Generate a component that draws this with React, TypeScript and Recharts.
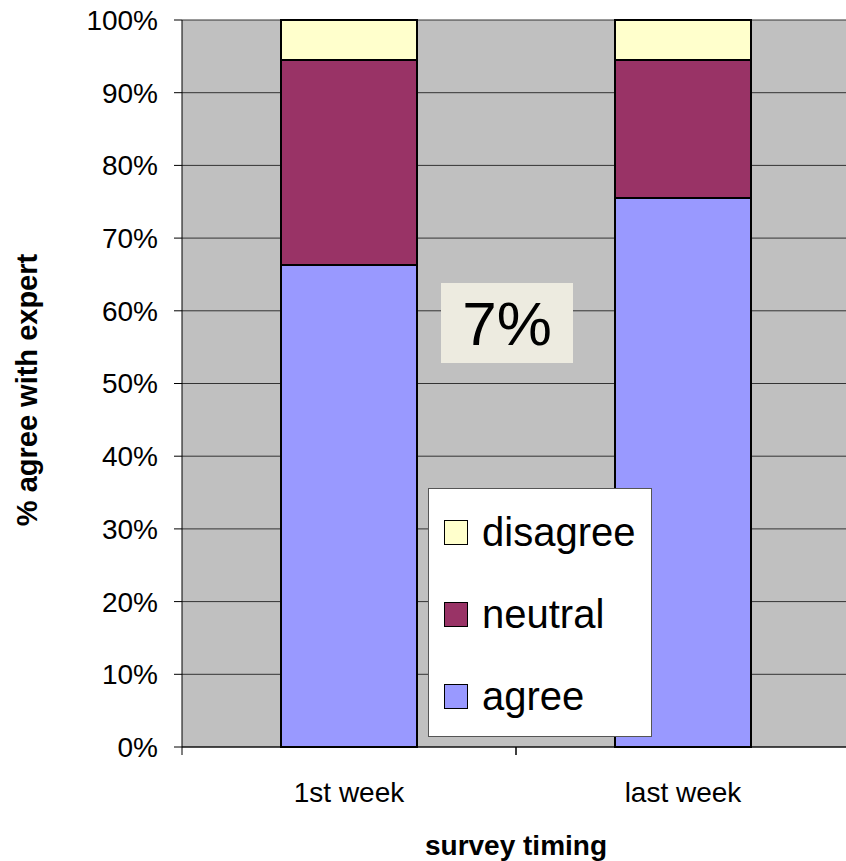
import React from "react";
import { BarChart, Bar, XAxis, YAxis, CartesianGrid, Legend } from "recharts";

const categories = ["1st week", "last week"];
const agree = [66.3, 75.5];
const neutral = [28.2, 19.0];
const disagree = [5.5, 5.5];
const yTicks = [0, 10, 20, 30, 40, 50, 60, 70, 80, 90, 100];
const legendOrder = ["disagree", "neutral", "agree"];

const data = categories.map((c, i) => ({
  name: c,
  agree: agree[i],
  neutral: neutral[i],
  disagree: disagree[i],
}));

const FONT = '"Liberation Sans", Arial, sans-serif';
const CHART_W = 850;
const CHART_H = 861;
const Y_AXIS_W = 182;
const HALF_BAND = (CHART_W - Y_AXIS_W) / categories.length / 2;

const XTick = (props: any) => {
  const { x, y, payload } = props;
  return (
    <g>
      <line x1={x - HALF_BAND} x2={x - HALF_BAND} y1={y} y2={y + 8} stroke="#000" />
      <line x1={x + HALF_BAND} x2={x + HALF_BAND} y1={y} y2={y + 8} stroke="#000" />
      <text x={x} y={y + 55} textAnchor="middle" fontSize={28} fontFamily={FONT} fill="#000">
        {payload.value}
      </text>
    </g>
  );
};

const LegendBox = (props: any) => {
  const payload = props.payload || [];
  const items = legendOrder
    .map((k) => payload.find((p: any) => p.dataKey === k || p.value === k))
    .filter(Boolean);
  return (
    <div
      style={{
        width: 224,
        height: 249,
        background: "#fff",
        border: "1px solid #555",
        boxSizing: "border-box",
        paddingTop: 2,
        fontFamily: FONT,
      }}
    >
      {items.map((it: any) => (
        <div key={it.value} style={{ display: "flex", alignItems: "center", height: 82 }}>
          <span
            style={{
              display: "inline-block",
              width: 24,
              height: 25,
              marginLeft: 15,
              marginRight: 14,
              background: it.color,
              border: "1.5px solid #000",
              boxSizing: "border-box",
            }}
          />
          <span style={{ fontSize: 40, color: "#000", lineHeight: "40px" }}>{it.value}</span>
        </div>
      ))}
    </div>
  );
};

export default function App() {
  return (
    <div style={{ position: "absolute", left: 0, top: 0, width: 846, height: 861, overflow: "hidden", background: "#fff" }}>
      <BarChart width={CHART_W} height={CHART_H} data={data} margin={{ top: 20, right: 0, left: 0, bottom: 0 }} barSize={136}>
        <CartesianGrid horizontal vertical={false} fill="#C0C0C0" stroke="#333" strokeOpacity={1} />
        <XAxis
          dataKey="name"
          height={114}
          axisLine={{ stroke: "#000" }}
          tickLine={false}
          tickSize={0}
          tickMargin={0}
          tick={<XTick />}
          interval={0}
          label={{
            value: "survey timing",
            position: "insideBottom",
            offset: 6,
            style: { fontSize: 28, fontWeight: "bold", fontFamily: FONT, fill: "#000" },
          }}
        />
        <YAxis
          width={Y_AXIS_W}
          domain={[0, 100]}
          ticks={yTicks}
          interval={0}
          tickFormatter={(v) => `${v}%`}
          tickSize={8}
          tickMargin={16}
          axisLine={{ stroke: "#000" }}
          tickLine={{ stroke: "#000" }}
          tick={{ fontSize: 28, fontFamily: FONT, fill: "#000" }}
        />
        <Legend
          layout="vertical"
          align="center"
          verticalAlign="middle"
          content={<LegendBox />}
          wrapperStyle={{ left: 428, top: 488, width: 224, height: 249 }}
        />
        <Bar dataKey="agree" name="agree" stackId="a" fill="#9999FF" stroke="#000" strokeWidth={2} isAnimationActive={false} />
        <Bar dataKey="neutral" name="neutral" stackId="a" fill="#993366" stroke="#000" strokeWidth={2} isAnimationActive={false} />
        <Bar dataKey="disagree" name="disagree" stackId="a" fill="#FFFFCC" stroke="#000" strokeWidth={2} isAnimationActive={false} />
      </BarChart>
      <div
        style={{
          position: "absolute",
          left: 441,
          top: 283,
          width: 132,
          height: 80,
          background: "#EDEBE0",
          display: "flex",
          alignItems: "center",
          justifyContent: "center",
          fontFamily: FONT,
          fontSize: 62,
          color: "#000",
        }}
      >
        7%
      </div>
      <div
        style={{
          position: "absolute",
          left: 27,
          top: 390,
          transform: "translate(-50%, -50%) rotate(-90deg)",
          whiteSpace: "nowrap",
          fontFamily: FONT,
          fontSize: 29,
          fontWeight: "bold",
          color: "#000",
        }}
      >
        % agree with expert
      </div>
    </div>
  );
}
